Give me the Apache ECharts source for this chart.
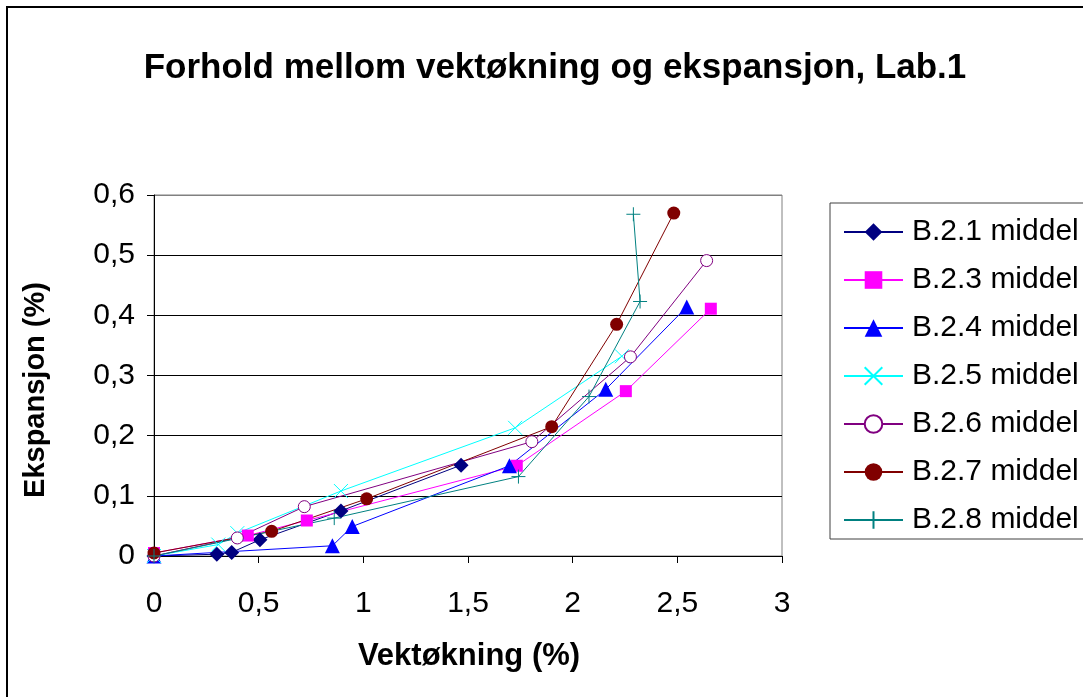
<!DOCTYPE html>
<html>
<head>
<meta charset="utf-8">
<style>
  html, body { margin: 0; padding: 0; background: #fff; }
  #chart { width: 1083px; height: 697px; }
</style>
<script src="https://cdn.jsdelivr.net/npm/echarts@6/dist/echarts.min.js"></script>
</head>
<body>
<div id="chart"></div>
<script>
// Weight gain (%) vs expansion (%) per sample series, Lab.1
const seriesNames = ['B.2.1 middel', 'B.2.3 middel', 'B.2.4 middel', 'B.2.5 middel', 'B.2.6 middel', 'B.2.7 middel', 'B.2.8 middel'];

const b21 = [[0, 0], [0.30, 0.003], [0.371, 0.006], [0.506, 0.027], [0.893, 0.075], [1.467, 0.151]];
const b23 = [[0, 0.005], [0.448, 0.034], [0.73, 0.059], [1.733, 0.150], [2.254, 0.274], [2.66, 0.411]];
const b24 = [[0, 0], [0.852, 0.017], [0.947, 0.049], [1.698, 0.150], [2.158, 0.277], [2.545, 0.414]];
const b25 = [[0, 0], [0.307, 0.019], [0.398, 0.038], [0.893, 0.108], [1.725, 0.213], [2.235, 0.332]];
const b26 = [[0, 0], [0.398, 0.030], [0.718, 0.082], [1.805, 0.190], [2.276, 0.331], [2.64, 0.491]];
const b27 = [[0, 0.005], [0.562, 0.041], [1.016, 0.095], [1.90, 0.215], [2.21, 0.385], [2.483, 0.570]];
const b28 = [[0, 0], [0.861, 0.063], [1.741, 0.132], [2.078, 0.265], [2.322, 0.423], [2.29, 0.568]];

const xTickLabels = ['0', '0,5', '1', '1,5', '2', '2,5', '3'];
const yTickLabels = ['0', '0,1', '0,2', '0,3', '0,4', '0,5', '0,6'];

const FONT = '"Liberation Sans", Arial, sans-serif';

const PATH_X = 'path://M0,0L10,10M10,0L0,10';
const PATH_PLUS = 'path://M5,0L5,10M0,5L10,5';

function lineSeries(name, data, color, symbol, size, itemStyle) {
  return {
    name: name,
    type: 'line',
    data: data,
    symbol: symbol,
    symbolSize: size,
    showAllSymbol: true,
    lineStyle: { color: color, width: 1 },
    itemStyle: itemStyle || { color: color },
    emphasis: { disabled: true },
    animation: false
  };
}

const series = [
  lineSeries(seriesNames[0], b21, '#000080', 'diamond', 15),
  lineSeries(seriesNames[1], b23, '#FF00FF', 'rect', 12),
  lineSeries(seriesNames[2], b24, '#0000FF', 'triangle', 15),
  lineSeries(seriesNames[3], b25, '#00FFFF', PATH_X, 14,
    { color: 'rgba(0,0,0,0)', borderColor: '#00FFFF', borderWidth: 1 }),
  lineSeries(seriesNames[4], b26, '#800080', 'circle', 12,
    { color: '#ffffff', borderColor: '#800080', borderWidth: 1 }),
  lineSeries(seriesNames[5], b27, '#800000', 'circle', 13),
  lineSeries(seriesNames[6], b28, '#008080', PATH_PLUS, 14,
    { color: 'rgba(0,0,0,0)', borderColor: '#008080', borderWidth: 1 })
];

const chart = echarts.init(document.getElementById('chart'), null, { renderer: 'canvas' });

chart.setOption({
  backgroundColor: '#ffffff',
  animation: false,
  textStyle: { fontFamily: FONT },
  grid: {
    left: 154, top: 195, right: 301, bottom: 141,
    show: true, borderColor: '#808080', borderWidth: 1,
    containLabel: false
  },
  xAxis: {
    type: 'value',
    min: 0, max: 3, interval: 0.5,
    axisLine: { show: true, onZero: false, lineStyle: { color: '#000', width: 1 } },
    axisTick: { show: true, inside: false, length: 7, lineStyle: { color: '#000' } },
    splitLine: { show: false },
    axisLabel: {
      color: '#000', fontSize: 30, fontFamily: FONT, margin: 33,
      formatter: function (v) { return xTickLabels[Math.round(v / 0.5)]; }
    }
  },
  yAxis: {
    type: 'value',
    min: 0, max: 0.6, interval: 0.1,
    axisLine: { show: true, onZero: false, lineStyle: { color: '#000', width: 1 } },
    axisTick: { show: true, inside: false, length: 7, lineStyle: { color: '#000' } },
    splitLine: {
      show: true,
      lineStyle: { color: ['#000', '#000', '#000', '#000', '#000', '#000', '#808080'], width: 1 }
    },
    axisLabel: {
      color: '#000', fontSize: 30, fontFamily: FONT, margin: 19,
      formatter: function (v) { return yTickLabels[Math.round(v / 0.1)]; }
    }
  },
  legend: {
    orient: 'vertical',
    left: 830, top: 203,
    itemWidth: 59, itemHeight: 22,
    itemGap: 14,
    padding: [12, 40, 2, 13],
    borderColor: '#404040', borderWidth: 1,
    backgroundColor: '#fff',
    selectedMode: false,
    data: seriesNames,
    textStyle: { color: '#000', fontSize: 30, fontFamily: FONT, lineHeight: 34, padding: [0, 0, 0, 4] }
  },
  graphic: [
    {
      type: 'rect', silent: true, z: -10,
      shape: { x: 7, y: 7, width: 1100, height: 720 },
      style: { fill: 'none', stroke: '#000', lineWidth: 2 }
    },
    {
      type: 'text', silent: true,
      x: 555, y: 68,
      style: {
        text: 'Forhold mellom vektøkning og ekspansjon, Lab.1',
        font: 'bold 35px ' + FONT, fill: '#000',
        align: 'center', verticalAlign: 'middle'
      }
    },
    {
      type: 'text', silent: true,
      x: 469, y: 656,
      style: {
        text: 'Vektøkning (%)',
        font: 'bold 31px ' + FONT, fill: '#000',
        align: 'center', verticalAlign: 'middle'
      }
    },
    {
      type: 'text', silent: true,
      x: 36, y: 390, rotation: Math.PI / 2,
      style: {
        text: 'Ekspansjon (%)',
        font: 'bold 29px ' + FONT, fill: '#000',
        align: 'center', verticalAlign: 'middle'
      }
    }
  ],
  series: series
});
</script>
</body>
</html>
